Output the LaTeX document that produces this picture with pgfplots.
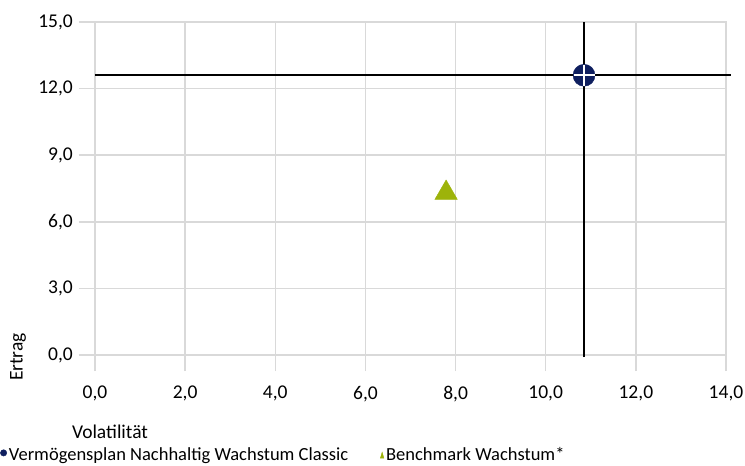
\documentclass[border=0pt]{standalone}
\usepackage{fontspec}
\setmainfont{Carlito}
\usepackage{pgfplots}
\pgfplotsset{compat=1.18}
\definecolor{navy}{HTML}{0F1F5F}
\definecolor{lime}{HTML}{9DB30A}
\definecolor{gridgray}{HTML}{D9D9D9}
\begin{document}
\fontsize{18bp}{21bp}\selectfont
\begin{tikzpicture}
\useasboundingbox (-95bp,-111bp) rectangle (650bp,355bp);
\begin{axis}[
  scale only axis,
  width=631bp, height=333bp,
  xmin=0, xmax=14, ymin=0, ymax=15,
  xtick={0,2,...,14}, ytick={0,3,...,15},
  axis line style={gridgray, line width=1.5bp},
  grid=major,
  grid style={gridgray, line width=1.5bp},
  xtick style={draw=gridgray, line width=1.5bp},
  ytick style={draw=gridgray, line width=1.5bp},
  tick align=outside, tick pos=left,
  major tick length=16bp,
  clip=false,
  /pgf/number format/.cd, fixed, fixed zerofill, precision=1, use comma, assume math mode=true,
  /pgfplots/.cd,
  ticklabel style={font=\fontsize{19.5bp}{22bp}\selectfont},
  yticklabel style={xshift=0bp},
  xticklabel style={yshift=-9bp},
  xlabel={Volatilität},
  xlabel style={at={(rel axis cs:0,0)}, anchor=center, xshift=15bp, yshift=-77bp, font=\fontsize{19.5bp}{22bp}\selectfont},
  ylabel={Ertrag},
  ylabel style={at={(rel axis cs:0,0)}, anchor=center, yshift=77bp, xshift=-2bp, font=\fontsize{19.5bp}{22bp}\selectfont},
  legend columns=2,
  legend style={at={(rel axis cs:0,0)}, anchor=north west, xshift=-95bp, yshift=-90bp, draw=none, fill=none, inner sep=0pt,
    font=\fontsize{18.5bp}{21bp}\selectfont,
    /tikz/every even column/.append style={column sep=30bp}},
  legend cell align=left,
]
\addplot[black, line width=1.6bp, forget plot] coordinates {(0,12.6) (14.1,12.6)};
\addplot[black, line width=1.6bp, forget plot] coordinates {(10.85,-0.1) (10.85,15)};
\addplot[only marks, mark=*, mark size=11bp, mark options={fill=navy, draw=navy},
  legend image code/.code={\fill[navy] (0.15cm,0) circle (3.2bp);}]
  coordinates {(10.85,12.6)};
\addlegendentry{Vermögensplan Nachhaltig Wachstum Classic}
\addplot[only marks, mark=+, mark size=10.5bp, mark options={draw=white, line width=1.6bp}, forget plot]
  coordinates {(10.85,12.6)};
\addplot[only marks, mark=triangle*, mark size=13bp, mark options={fill=lime, draw=lime},
  legend image code/.code={\fill[lime] (0.15cm,-3bp) -- (0.15cm+3.5bp,-3bp) -- (0.15cm+1.75bp,3bp) -- cycle;}]
  coordinates {(7.79,7.3)};
\addlegendentry{Benchmark Wachstum*}
\end{axis}
\end{tikzpicture}
\end{document}
